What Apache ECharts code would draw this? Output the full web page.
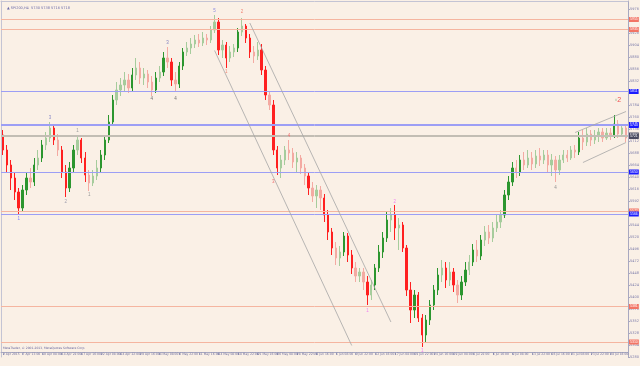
<!DOCTYPE html>
<html><head><meta charset="utf-8">
<script src="https://cdn.jsdelivr.net/npm/echarts@6/dist/echarts.min.js"></script>
<style>html,body{margin:0;padding:0;background:#FAF0E6}#c{width:640px;height:366px}</style>
</head><body><div id="c"></div>
<script>
const tickLabels = ["2 Apr 2015","7 Apr 13:00","10 Apr 08:00","14 Apr 22:00","17 Apr 16:00","22 Apr 08:00","24 Apr 22:00","29 Apr 16:00","4 May 08:00","6 May 22:00","11 May 16:00","14 May 08:00","18 May 22:00","21 May 16:00","26 May 08:00","28 May 22:00","2 Jun 16:00","5 Jun 08:00","9 Jun 22:00","12 Jun 16:00","17 Jun 08:00","19 Jun 22:00","24 Jun 16:00","29 Jun 08:00","1 Jul 22:00","6 Jul 16:00","9 Jul 08:00","13 Jul 22:00","16 Jul 16:00","21 Jul 08:00","23 Jul 22:00","28 Jul 16:00"];

const opens = [5724,5694,5664,5638,5610,5578,5614,5638,5630,5664,
5678,5704,5718,5738,5714,5694,5650,5618,5658,5694,
5714,5678,5644,5628,5642,5658,5684,5714,5750,5794,
5814,5824,5834,5818,5844,5858,5838,5846,5830,5814,
5838,5850,5878,5870,5834,5826,5862,5890,5898,5906,
5914,5908,5918,5914,5934,5950,5894,5904,5878,5890,
5898,5930,5942,5918,5890,5882,5894,5854,5804,5784,
5694,5658,5674,5694,5688,5670,5678,5658,5642,5618,
5602,5614,5598,5564,5530,5498,5478,5490,5522,5484,
5458,5442,5450,5430,5404,5424,5458,5490,5518,5554,
5564,5538,5544,5498,5414,5374,5404,5358,5324,5354,
5384,5414,5444,5458,5434,5450,5424,5404,5430,5454,
5470,5494,5482,5514,5530,5518,5538,5550,5564,5604,
5630,5658,5650,5674,5664,5678,5666,5682,5674,5684,
5664,5674,5654,5674,5684,5678,5694,5690,5718,5710,
5726,5714,5722,5730,5718,5728,5722,5746,5726,5738];
const closes = [5694,5664,5638,5610,5578,5614,5638,5630,5664,5678,
5704,5718,5738,5714,5694,5650,5618,5658,5694,5714,
5678,5644,5628,5642,5658,5684,5714,5750,5794,5814,
5824,5834,5818,5844,5858,5838,5846,5830,5814,5838,
5850,5878,5870,5834,5826,5862,5890,5898,5906,5914,
5908,5918,5914,5934,5950,5894,5904,5878,5890,5898,
5930,5942,5918,5890,5882,5894,5854,5804,5784,5694,
5658,5674,5694,5688,5670,5678,5658,5642,5618,5602,
5614,5598,5564,5530,5498,5478,5490,5522,5484,5458,
5442,5450,5430,5404,5424,5458,5490,5518,5554,5564,
5538,5544,5498,5414,5374,5404,5358,5324,5354,5384,
5414,5444,5458,5434,5450,5424,5404,5430,5454,5470,
5494,5482,5514,5530,5518,5538,5550,5564,5604,5630,
5658,5650,5674,5664,5678,5666,5682,5674,5684,5664,
5674,5654,5674,5684,5678,5694,5690,5718,5710,5726,
5714,5722,5730,5718,5728,5722,5746,5726,5738,5718];
const lows = [5684,5650,5614,5594,5564,5570,5604,5618,5622,5654,
5670,5694,5710,5704,5682,5638,5600,5610,5650,5684,
5668,5630,5612,5622,5634,5650,5674,5708,5744,5784,
5802,5810,5808,5810,5834,5826,5824,5818,5802,5808,
5830,5842,5858,5822,5810,5818,5854,5882,5886,5898,
5900,5902,5904,5908,5928,5884,5878,5858,5870,5880,
5890,5922,5908,5878,5868,5874,5844,5794,5774,5684,
5644,5638,5664,5674,5658,5650,5646,5624,5604,5590,
5578,5574,5550,5514,5484,5464,5462,5482,5470,5446,
5430,5430,5414,5384,5394,5414,5450,5478,5510,5530,
5514,5494,5490,5402,5348,5358,5350,5300,5310,5344,
5374,5404,5430,5418,5422,5410,5388,5394,5422,5444,
5462,5470,5474,5502,5506,5510,5530,5538,5558,5594,
5622,5638,5642,5654,5658,5654,5658,5662,5666,5650,
5642,5630,5644,5668,5670,5674,5678,5684,5694,5702,
5702,5706,5710,5710,5714,5714,5718,5718,5720,5710];
const highs = [5734,5704,5674,5650,5618,5624,5650,5658,5678,5694,
5714,5730,5750,5744,5726,5702,5664,5670,5704,5724,
5718,5690,5654,5654,5674,5694,5724,5764,5804,5830,
5838,5850,5846,5858,5878,5870,5858,5854,5842,5850,
5862,5890,5900,5878,5850,5870,5898,5910,5918,5924,
5926,5930,5926,5942,5964,5958,5914,5910,5902,5906,
5938,5958,5946,5926,5902,5910,5906,5862,5810,5794,
5702,5684,5702,5714,5698,5690,5684,5666,5650,5630,
5624,5622,5606,5574,5538,5510,5502,5530,5528,5494,
5470,5458,5458,5442,5434,5466,5504,5530,5570,5578,
5584,5558,5550,5504,5430,5414,5410,5366,5364,5394,
5424,5458,5474,5470,5470,5458,5434,5442,5470,5484,
5506,5514,5524,5542,5544,5550,5564,5574,5614,5642,
5670,5674,5684,5690,5694,5690,5694,5698,5694,5694,
5686,5682,5684,5694,5694,5702,5704,5730,5734,5738,
5734,5734,5738,5738,5738,5738,5764,5754,5744,5742];

const redLevels = [5955, 5935, 5572, 5381, 5310];
const blueLevels = [5811, 5745, 5743, 5650, 5566];
const grayLevels = [5724, 5721];
const trendLines = [
  [[54, 5893], [89, 5303]],
  [[63, 5948], [99, 5350]],
  [[146, 5729], [159, 5771]],
  [[148, 5669], [159, 5709]]
];
const waveIdx   = [4, 12, 16, 19, 22, 38, 42, 44, 54, 61, 57, 69, 73, 100, 93, 107, 141];
const wavePrice = [5556, 5758, 5590, 5732, 5604, 5796, 5908, 5796, 5972, 5970, 5850, 5630, 5722, 5590, 5372, 5292, 5618];
const waveText  = ['1','3','2','1','1','4','3','4','5','2','1','3','4','2','1','1','4'];
const waveColors = ['#7f7fff','#8c8cc8','#a0a0b0','#a0a0a0','#9a9a9a','#707070','#8080c0','#707070','#8a8ae0','#f08878','#f08878','#f07070','#f07070','#f080f0','#f080f0','#f080f0','#909090'];

const chart = echarts.init(document.getElementById('c'), null, {renderer: 'canvas'});
const cats = opens.map((_, i) => String(i));
const UP_STRONG = '#2c962f', UP_SOFT = '#a6cc9c', DN_STRONG = '#ff2020', DN_SOFT = '#f4aaa2';
const candleData = opens.map((o, i) => {
  const c = closes[i], big = Math.abs(c - o) >= 24, up = c >= o;
  const col = up ? (big ? UP_STRONG : UP_SOFT) : (big ? DN_STRONG : DN_SOFT);
  return {value: [o, c, lows[i], highs[i]], itemStyle: {color: col, color0: col, borderColor: col, borderColor0: col}};
});
const lvl = (v, line, box) => ({
  yAxis: v,
  lineStyle: {color: line, width: 1, type: 'solid', opacity: 1},
  label: {show: true, position: 'end', formatter: String(v), color: '#fff', backgroundColor: box, fontSize: 3.5, padding: [0.5, 1], distance: 1}
});
const levelData = [].concat(
  redLevels.map(v => lvl(v, '#f5b5a0', '#f27464')),
  blueLevels.map(v => lvl(v, '#9c9ef5', '#1a1aff')),
  grayLevels.map(v => lvl(v, '#c2bdb4', '#4a4a60'))
);
const trendData = trendLines.map(([a, b]) => [
  {coord: a, lineStyle: {color: '#a6a6a6', width: 0.8, type: 'solid'}, label: {show: false}},
  {coord: b}
]);
const waveData = waveIdx.map((ix, k) => ({
  coord: [ix, wavePrice[k]], symbol: 'circle', symbolSize: 0,
  label: {show: true, position: 'inside', formatter: waveText[k], color: waveColors[k], fontSize: 4.5}
}));
waveData.push({
  coord: [157, 5794], symbol: 'circle', symbolSize: 0,
  label: {show: true, position: 'inside', formatter: '{g|ii}{r|2}',
    rich: {g: {color: '#8fb88a', fontSize: 4}, r: {color: '#f05050', fontSize: 7}}}
});

chart.setOption({
  animation: false,
  backgroundColor: '#FAF0E6',
  title: {
    text: '\u25B2 SPI200,H4  5730 5738 5716 5718', left: 2, top: 1,
    textStyle: {fontSize: 3.5, color: '#6a6aa8', fontWeight: 'normal', fontFamily: 'DejaVu Sans'}
  },
  graphic: [{
    type: 'text', left: 3, top: 347,
    style: {text: 'MetaTrader, \u00A9 2001-2013, MetaQuotes Software Corp.', fontSize: 3, fill: '#6868a0', fontFamily: 'DejaVu Sans'}
  }],
  grid: {left: 1, right: 12, top: 1, bottom: 9, containLabel: false, outerBoundsMode: 'none'},
  xAxis: [{
    type: 'category', data: cats, boundaryGap: true, position: 'bottom', offset: -5,
    axisLine: {show: true, onZero: false, lineStyle: {color: '#a8a8c0', width: 1}},
    axisTick: {show: true, interval: 4, length: 3, alignWithLabel: true, lineStyle: {color: '#a8a8c0'}},
    axisLabel: {interval: 4, formatter: (v, i) => tickLabels[i / 5] || '', fontSize: 3, color: '#7070a0', align: 'left', margin: 1, fontFamily: 'DejaVu Sans'},
    splitLine: {show: false}
  }, {
    type: 'category', data: cats, boundaryGap: true, position: 'top',
    axisLine: {show: true, onZero: false, lineStyle: {color: '#c4c4d4'}},
    axisTick: {show: false}, axisLabel: {show: false}, splitLine: {show: false}
  }],
  yAxis: [{
    type: 'value', position: 'right', min: 5280, max: 5992, interval: 24,
    axisLine: {show: true, lineStyle: {color: '#a8a8c0'}},
    axisTick: {show: true, length: 2, lineStyle: {color: '#a8a8c0'}},
    axisLabel: {fontSize: 3.5, color: '#7878a8', margin: 2, showMaxLabel: false, formatter: v => String(v), fontFamily: 'DejaVu Sans'},
    splitLine: {show: false}
  }, {
    type: 'value', position: 'left', min: 5280, max: 5992, interval: 24,
    axisLine: {show: true, lineStyle: {color: '#c4c4d4'}},
    axisTick: {show: false}, axisLabel: {show: false}, splitLine: {show: false}
  }],
  series: [{
    type: 'candlestick', xAxisIndex: 0, yAxisIndex: 0,
    data: candleData, barWidth: 1.8,
    itemStyle: {borderWidth: 1},
    markLine: {silent: true, symbol: 'none', animation: false, data: levelData.concat(trendData)},
    markPoint: {silent: true, animation: false, data: waveData}
  }]
});
</script></body></html>
